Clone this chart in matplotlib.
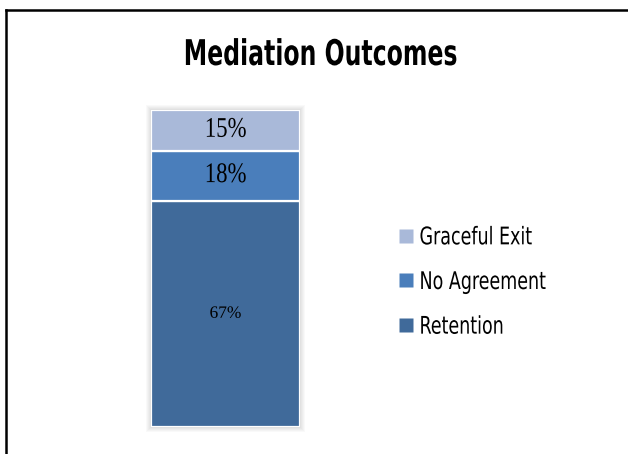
import matplotlib
matplotlib.use("Agg")
import matplotlib.pyplot as plt
from matplotlib.patches import Rectangle
from matplotlib.lines import Line2D
from matplotlib.patheffects import AbstractPathEffect
from matplotlib.transforms import Affine2D

# stacked from bottom to top
categories = ["Retention", "No Agreement", "Graceful Exit"]
heights = [71.4, 15.8, 12.8]          # segment heights as drawn
labels = ["67%", "18%", "15%"]        # printed labels
colors = ["#406A9A", "#4A7EBB", "#A9B9D9"]
label_sizes = [12.5, 20.5, 20.5]
label_squeeze = [1.0, 0.8, 0.8]


class Squeeze(AbstractPathEffect):
    """Narrow the glyphs horizontally (stand-in for a condensed face)."""

    def __init__(self, sx, anchor="left"):
        super().__init__()
        self.sx = sx
        self.anchor = anchor

    def draw_path(self, renderer, gc, tpath, affine, rgbFace=None):
        cx = 0.0
        if self.anchor == "center":
            ext = tpath.get_extents()
            cx = (ext.x0 + ext.x1) / 2
        t = Affine2D().translate(-cx, 0).scale(self.sx, 1).translate(cx, 0) + affine
        renderer.draw_path(gc, tpath, t, rgbFace)


W, H = 628, 454
fig = plt.figure(figsize=(W / 100, H / 100), dpi=100)

# frame lines (left and top only)
fig.add_artist(Line2D([6 / W, 6 / W], [0, 1 - 10 / H], color="black", lw=1.8,
                      transform=fig.transFigure))
fig.add_artist(Line2D([6 / W, 1], [1 - 10 / H, 1 - 10 / H], color="black", lw=1.8,
                      transform=fig.transFigure))

left, right, top, bottom = 151, 300, 110, 427
ax = fig.add_axes([left / W, 1 - bottom / H, (right - left) / W, (bottom - top) / H])
ax.set_zorder(2)

# soft shadow round the bar
for k in range(1, 6):
    fig.patches.append(Rectangle(((left - k) / W, 1 - (bottom + k) / H),
                                 (right - left + 2 * k) / W, (bottom - top + 2 * k) / H,
                                 transform=fig.transFigure, facecolor="#000000",
                                 alpha=0.025, edgecolor="none", zorder=-1))

base = 0
for h, lab, c, fs, sq in zip(heights, labels, colors, label_sizes, label_squeeze):
    ax.bar(0, h, bottom=base, width=1.0, color=c, edgecolor="white", linewidth=1.6)
    ax.text(0, base + h / 2, lab, ha="center", va="center", fontsize=fs,
            family="Liberation Serif", color="black",
            path_effects=[Squeeze(sq, "center")])
    base += h

ax.set_xlim(-0.5, 0.5)
ax.set_ylim(0, base)
ax.axis("off")

fig.text(320 / W, 1 - 55 / H, "Mediation Outcomes", ha="center", va="center",
         fontsize=25.5, fontweight="bold", family="DejaVu Sans", fontstretch="condensed",
         path_effects=[Squeeze(0.74, "center")])

handles = [Line2D([], [], marker="s", linestyle="none", markersize=9.5,
                  markerfacecolor=c, markeredgecolor="none") for c in colors[::-1]]
leg = fig.legend(handles, categories[::-1], loc="center left",
                 bbox_to_anchor=(385 / W, 1 - 282 / H), frameon=False,
                 prop={"family": "DejaVu Sans", "stretch": "condensed", "size": 17.5},
                 handlelength=0.7, handletextpad=0.22, labelspacing=0.85, borderpad=0)
for t in leg.get_texts():
    t.set_path_effects([Squeeze(0.8)])

fig.savefig("out.png", dpi=100)
